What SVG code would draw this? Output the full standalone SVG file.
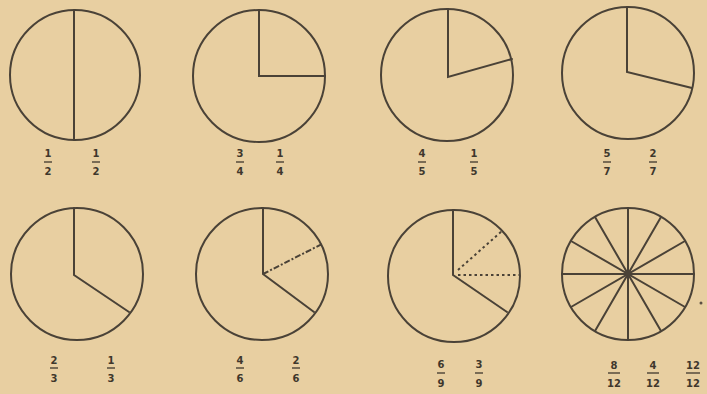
<svg xmlns="http://www.w3.org/2000/svg" width="707" height="394" viewBox="0 0 707 394">
<defs>
<style>
.bg{fill:#e8cfa1}
.c{fill:none;stroke:#4a4237;stroke-width:2}
.s{stroke:#4a4237;stroke-width:2;fill:none;stroke-linecap:round}
.dd{stroke:#4a4237;stroke-width:2;fill:none;stroke-dasharray:6 2 2 2}
.dt{stroke:#4a4237;stroke-width:2;fill:none;stroke-dasharray:2.5 3}
.t{font-family:"DejaVu Sans","Liberation Sans",sans-serif;font-weight:bold;font-size:10px;fill:#3f372c;text-anchor:middle}
.b{stroke:#3f372c;stroke-width:1.3}
</style>
</defs>
<rect class="bg" x="0" y="0" width="707" height="394"/>

<g id="circle-halves">
<circle class="c" cx="75" cy="75" r="65"/>
<line class="s" x1="74" y1="10" x2="74" y2="140"/>
</g>
<g id="circle-quarters">
<circle class="c" cx="259" cy="76" r="66"/>
<polyline class="s" points="259,10 259,76 325,76"/>
</g>
<g id="circle-fifths">
<circle class="c" cx="447" cy="75" r="66"/>
<polyline class="s" points="448,9 448,77 512,59"/>
</g>
<g id="circle-sevenths">
<circle class="c" cx="628" cy="73" r="66"/>
<polyline class="s" points="627,7 627,72 692,88"/>
</g>
<g id="circle-thirds">
<circle class="c" cx="77" cy="274" r="66"/>
<polyline class="s" points="74,208 74,275 129,312"/>
</g>
<g id="circle-sixths">
<circle class="c" cx="262" cy="274" r="66"/>
<polyline class="s" points="263,208 263,274 314,312"/>
<line class="dd" x1="263" y1="274" x2="322" y2="244"/>
</g>
<g id="circle-ninths">
<circle class="c" cx="454" cy="276" r="66"/>
<polyline class="s" points="453,210 453,275 507,312"/>
<line class="dt" x1="458" y1="270" x2="502" y2="231"/>
<line class="dt" x1="458" y1="275" x2="520" y2="275"/>
</g>
<g id="circle-twelfths">
<circle class="c" cx="628" cy="274" r="66"/>
<line class="s" x1="628" y1="208" x2="628" y2="340"/>
<line class="s" x1="562" y1="274" x2="694" y2="274"/>
<line class="s" x1="595" y1="217" x2="661" y2="331"/>
<line class="s" x1="661" y1="217" x2="595" y2="331"/>
<line class="s" x1="571" y1="241" x2="685" y2="307"/>
<line class="s" x1="685" y1="241" x2="571" y2="307"/>
<circle cx="628" cy="273" r="3" fill="#4a4237"/>
</g>
<circle cx="701" cy="303" r="1.5" fill="#5a5044"/>

<g id="labels">
<g><text class="t" x="48" y="157">1</text><line class="b" x1="44" y1="162" x2="52" y2="162"/><text class="t" x="48" y="175">2</text></g>
<g><text class="t" x="96" y="157">1</text><line class="b" x1="92" y1="162" x2="100" y2="162"/><text class="t" x="96" y="175">2</text></g>
<g><text class="t" x="240" y="157">3</text><line class="b" x1="236" y1="162" x2="244" y2="162"/><text class="t" x="240" y="175">4</text></g>
<g><text class="t" x="280" y="157">1</text><line class="b" x1="276" y1="162" x2="284" y2="162"/><text class="t" x="280" y="175">4</text></g>
<g><text class="t" x="422" y="157">4</text><line class="b" x1="418" y1="162" x2="426" y2="162"/><text class="t" x="422" y="175">5</text></g>
<g><text class="t" x="474" y="157">1</text><line class="b" x1="470" y1="162" x2="478" y2="162"/><text class="t" x="474" y="175">5</text></g>
<g><text class="t" x="607" y="157">5</text><line class="b" x1="603" y1="162" x2="611" y2="162"/><text class="t" x="607" y="175">7</text></g>
<g><text class="t" x="653" y="157">2</text><line class="b" x1="649" y1="162" x2="657" y2="162"/><text class="t" x="653" y="175">7</text></g>

<g><text class="t" x="54" y="364">2</text><line class="b" x1="50" y1="368" x2="58" y2="368"/><text class="t" x="54" y="382">3</text></g>
<g><text class="t" x="111" y="364">1</text><line class="b" x1="107" y1="368" x2="115" y2="368"/><text class="t" x="111" y="382">3</text></g>
<g><text class="t" x="240" y="364">4</text><line class="b" x1="236" y1="368" x2="244" y2="368"/><text class="t" x="240" y="382">6</text></g>
<g><text class="t" x="296" y="364">2</text><line class="b" x1="292" y1="368" x2="300" y2="368"/><text class="t" x="296" y="382">6</text></g>
<g><text class="t" x="441" y="368">6</text><line class="b" x1="437" y1="373" x2="445" y2="373"/><text class="t" x="441" y="387">9</text></g>
<g><text class="t" x="479" y="368">3</text><line class="b" x1="475" y1="373" x2="483" y2="373"/><text class="t" x="479" y="387">9</text></g>
<g><text class="t" x="614" y="369">8</text><line class="b" x1="608" y1="373" x2="620" y2="373"/><text class="t" x="614" y="387">12</text></g>
<g><text class="t" x="653" y="369">4</text><line class="b" x1="647" y1="373" x2="659" y2="373"/><text class="t" x="653" y="387">12</text></g>
<g><text class="t" x="693" y="369">12</text><line class="b" x1="686" y1="373" x2="700" y2="373"/><text class="t" x="693" y="387">12</text></g>
</g>
</svg>
